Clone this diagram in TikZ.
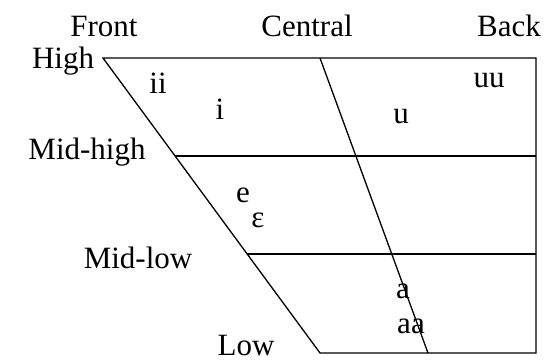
\documentclass[tikz,border=0pt]{standalone}
\usepackage{fontspec}
\setmainfont{Liberation Serif}
\begin{document}
\begin{tikzpicture}[x=1pt,y=-1pt,
  lbl/.style={anchor=base,inner sep=0pt,font=\fontsize{31}{37}\selectfont},
  edge/.style={line width=1.3pt,black}]
\useasboundingbox (0,0) rectangle (546,362);
% frame corners
\coordinate (TL) at (103,58);
\coordinate (TR) at (536,58);
\coordinate (BR) at (536,353);
\coordinate (BL) at (320,353);
\coordinate (MHL) at (175,156);
\coordinate (MHR) at (536,156);
\coordinate (MLL) at (247,254);
\coordinate (MLR) at (536,254);
\coordinate (CT) at (320,58);
\coordinate (CB) at (428,353);
\draw[edge] (TL) -- (TR) -- (BR) -- (BL) -- cycle;
\draw[edge] (MHL) -- (MHR);
\draw[edge] (MLL) -- (MLR);
\draw[edge] (CT) -- (CB);
% labels
\node[lbl] (front) at (104,36) {Front};
\node[lbl] (central) at (307,36) {Central};
\node[lbl] (back) at (509,36) {Back};
\node[lbl] (high) at (63,68) {High};
\node[lbl] (midhigh) at (87,159) {Mid-high};
\node[lbl] (midlow) at (138,268) {Mid-low};
\node[lbl] (low) at (246,355) {Low};
% vowels
\node[lbl] (ii) at (158,93) {ii};
\node[lbl] (i) at (220,119) {i};
\node[lbl] (u) at (401,123) {u};
\node[lbl] (uu) at (489,87) {uu};
\node[lbl] (e) at (243,202) {e};
\node[lbl] (eps) at (258,227) {ε};
\node[lbl] (a) at (403,298) {a};
\node[lbl] (aa) at (411,333) {aa};
\end{tikzpicture}
\end{document}
